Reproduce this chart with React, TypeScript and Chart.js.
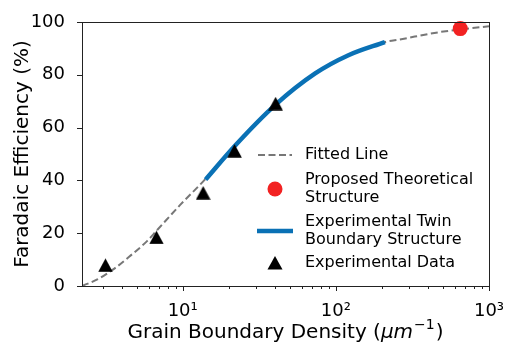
import React, { useEffect, useRef } from 'react';
import { Chart, registerables } from 'chart.js';

Chart.register(...registerables);

// Fitted line
const fitDensity = [2.2, 2.77, 3.58, 4.56, 5.85, 6.84, 9.66, 13.8, 22.1, 40.1, 73.3, 120.8, 209, 262, 479, 1000];
const fitEfficiency = [0, 2.5, 6.6, 11.5, 17.0, 21.3, 30.8, 40.0, 53.3, 68.5, 80.5, 87.4, 92.4, 93.4, 96.2, 98.4];
// Experimental twin boundary structure (solid blue)
const twinDensity = [14.1, 22.1, 40.1, 73.3, 120.8, 209];
const twinEfficiency = [40.3, 53.3, 68.5, 80.5, 87.4, 92.4];
// Experimental data (triangles)
const expDensity = [3.13, 6.74, 13.6, 21.8, 40.4];
const expEfficiency = [7.9, 18.4, 35.3, 51.2, 69.1];
// Proposed theoretical structure (red circle)
const theoDensity = [649];
const theoEfficiency = [97.5];

const xMin = 2.2;
const xMax = 1000;
const yMin = 0;
const yMax = 100;
const yStep = 20;
const xTickLabels: Record<string, string> = { '10': '10¹', '100': '10²', '1000': '10³' };

const xTitleParts = ['Grain Boundary Density (', 'μm', '−1', ')'];
const yTitle = 'Faradaic Efficiency (%)';
const legendFitted = ['Fitted Line'];
const legendTheo = ['Proposed Theoretical', 'Structure'];
const legendTwin = ['Experimental Twin', 'Boundary Structure'];
const legendExp = ['Experimental Data'];

const FONT = "'DejaVu Sans', sans-serif";
const GRAY = '#777777';
const BLUE = '#0a71b5';
const RED = '#f22222';

const pts = (xs: number[], ys: number[]) => xs.map((x, i) => ({ x, y: ys[i] }));

function makeTriangle(): HTMLCanvasElement {
  const c = document.createElement('canvas');
  c.width = 15;
  c.height = 14;
  const g = c.getContext('2d')!;
  g.fillStyle = '#000';
  g.beginPath();
  g.moveTo(7.5, 0.3);
  g.lineTo(14.8, 13.7);
  g.lineTo(0.2, 13.7);
  g.closePath();
  g.fill();
  return c;
}

const decorPlugin = {
  id: 'decor',
  afterDraw(chart: any) {
    const ctx = chart.ctx as CanvasRenderingContext2D;
    const { left, right, top, bottom } = chart.chartArea;
    const xs = chart.scales.x;
    const ys = chart.scales.y;
    ctx.save();
    ctx.strokeStyle = '#222';
    ctx.lineWidth = 1;
    // frame
    ctx.strokeRect(Math.round(left) + 0.5, Math.round(top) + 0.5, Math.round(right - left), Math.round(bottom - top));
    // y tick marks
    ctx.beginPath();
    for (const t of ys.ticks) {
      const py = Math.round(ys.getPixelForValue(t.value)) + 0.5;
      ctx.moveTo(left - 5, py);
      ctx.lineTo(left, py);
    }
    // x tick marks
    for (const t of xs.ticks) {
      const v = t.value;
      if (v < xMin - 1e-9 || v > xMax + 1e-9) continue;
      const e = Math.floor(Math.log10(v) + 1e-9);
      const sig = v / Math.pow(10, e);
      if (Math.abs(sig - Math.round(sig)) > 1e-6) continue;
      const len = Math.round(sig) === 1 ? 5 : 3;
      const px = Math.round(xs.getPixelForValue(v)) + 0.5;
      ctx.moveTo(px, bottom);
      ctx.lineTo(px, bottom + len);
    }
    ctx.stroke();

    // x title with italic unit and superscript
    ctx.fillStyle = '#000';
    ctx.textBaseline = 'alphabetic';
    ctx.textAlign = 'left';
    const fN = `20px ${FONT}`;
    const fI = `italic 20px ${FONT}`;
    const fS = `14px ${FONT}`;
    ctx.font = fN; const w0 = ctx.measureText(xTitleParts[0]).width;
    ctx.font = fI; const w1 = ctx.measureText(xTitleParts[1]).width;
    ctx.font = fS; const w2 = ctx.measureText(xTitleParts[2]).width;
    ctx.font = fN; const w3 = ctx.measureText(xTitleParts[3]).width;
    const total = w0 + w1 + w2 + w3 + 2;
    let cx = (left + right) / 2 - total / 2;
    const by = 338;
    ctx.font = fN; ctx.fillText(xTitleParts[0], cx, by); cx += w0;
    ctx.font = fI; ctx.fillText(xTitleParts[1], cx, by); cx += w1 + 1;
    ctx.font = fS; ctx.fillText(xTitleParts[2], cx, by - 9); cx += w2 + 1;
    ctx.font = fN; ctx.fillText(xTitleParts[3], cx, by);

    // legend
    const sx = left + 193;
    const tx = left + 223;
    ctx.font = `16px ${FONT}`;
    ctx.fillStyle = '#000';
    ctx.textBaseline = 'middle';
    ctx.textAlign = 'left';
    const lh = 18;
    let y0 = top + 133;
    ctx.fillText(legendFitted[0], tx, y0);
    ctx.beginPath();
    ctx.setLineDash([7, 3.5]);
    ctx.strokeStyle = GRAY;
    ctx.lineWidth = 2;
    ctx.moveTo(sx - 17, y0);
    ctx.lineTo(sx + 17, y0);
    ctx.stroke();
    ctx.setLineDash([]);
    y0 = top + 158;
    legendTheo.forEach((s, i) => ctx.fillText(s, tx, y0 + i * lh));
    ctx.beginPath();
    ctx.fillStyle = RED;
    ctx.arc(sx, y0 + lh / 2, 7.5, 0, Math.PI * 2);
    ctx.fill();
    ctx.fillStyle = '#000';
    y0 = top + 200;
    legendTwin.forEach((s, i) => ctx.fillText(s, tx, y0 + i * lh));
    ctx.beginPath();
    ctx.strokeStyle = BLUE;
    ctx.lineWidth = 4.5;
    ctx.moveTo(sx - 18, y0 + lh / 2);
    ctx.lineTo(sx + 18, y0 + lh / 2);
    ctx.stroke();
    y0 = top + 241;
    ctx.fillText(legendExp[0], tx, y0);
    ctx.beginPath();
    ctx.fillStyle = '#000';
    ctx.moveTo(sx, y0 - 7);
    ctx.lineTo(sx + 7.5, y0 + 6.5);
    ctx.lineTo(sx - 7.5, y0 + 6.5);
    ctx.closePath();
    ctx.fill();
    ctx.restore();
  },
};

export default function App() {
  const ref = useRef<HTMLCanvasElement | null>(null);
  useEffect(() => {
    if (!ref.current) return;
    const tri = makeTriangle();
    const chart = new Chart(ref.current, {
      type: 'scatter',
      data: {
        datasets: [
          {
            label: 'Experimental Data',
            data: pts(expDensity, expEfficiency),
            pointStyle: tri,
            pointRadius: 8,
            backgroundColor: '#000',
            borderColor: '#000',
            borderWidth: 0,
            showLine: false,
            clip: false,
          },
          {
            label: 'Proposed Theoretical Structure',
            data: pts(theoDensity, theoEfficiency),
            pointStyle: 'circle',
            pointRadius: 7.5,
            backgroundColor: RED,
            borderColor: RED,
            borderWidth: 0,
            showLine: false,
            clip: false,
          },
          {
            label: 'Experimental Twin Boundary Structure',
            data: pts(twinDensity, twinEfficiency),
            showLine: true,
            borderColor: BLUE,
            borderWidth: 4.5,
            pointRadius: 0,
            cubicInterpolationMode: 'monotone',
            borderCapStyle: 'butt',
          },
          {
            label: 'Fitted Line',
            data: pts(fitDensity, fitEfficiency),
            showLine: true,
            borderColor: GRAY,
            borderWidth: 2,
            borderDash: [7, 3.5],
            pointRadius: 0,
            cubicInterpolationMode: 'monotone',
          },
        ],
      } as any,
      options: {
        animation: false,
        responsive: true,
        maintainAspectRatio: false,
        layout: { padding: { top: 22, right: 16, left: 0, bottom: 0 } },
        plugins: { legend: { display: false }, tooltip: { enabled: false } },
        scales: {
          x: {
            type: 'logarithmic',
            min: xMin,
            max: xMax,
            border: { display: false },
            grid: { display: false },
            ticks: {
              autoSkip: false,
              maxRotation: 0,
              padding: 7,
              color: '#000',
              font: { family: FONT, size: 18 },
              callback: (v: any) => xTickLabels[String(v)] ?? '',
            },
            title: { display: false },
            afterFit: (s: any) => { s.height = 56; s.paddingRight = 0; s.paddingLeft = 0; },
          },
          y: {
            type: 'linear',
            min: yMin,
            max: yMax,
            border: { display: false },
            grid: { display: false },
            ticks: {
              stepSize: yStep,
              padding: 9,
              color: '#000',
              font: { family: FONT, size: 18 },
            },
            title: {
              display: true,
              text: yTitle,
              color: '#000',
              font: { family: FONT, size: 20 },
              padding: { top: 11, bottom: 0 },
            },
            afterFit: (s: any) => { s.width = 82; s.paddingTop = 0; s.paddingBottom = 0; },
          },
        },
      } as any,
      plugins: [decorPlugin],
    });
    return () => chart.destroy();
  }, []);
  return (
    <div style={{ position: 'absolute', left: 0, top: 0, width: 505, height: 342, background: '#fff' }}>
      <canvas ref={ref} />
    </div>
  );
}
